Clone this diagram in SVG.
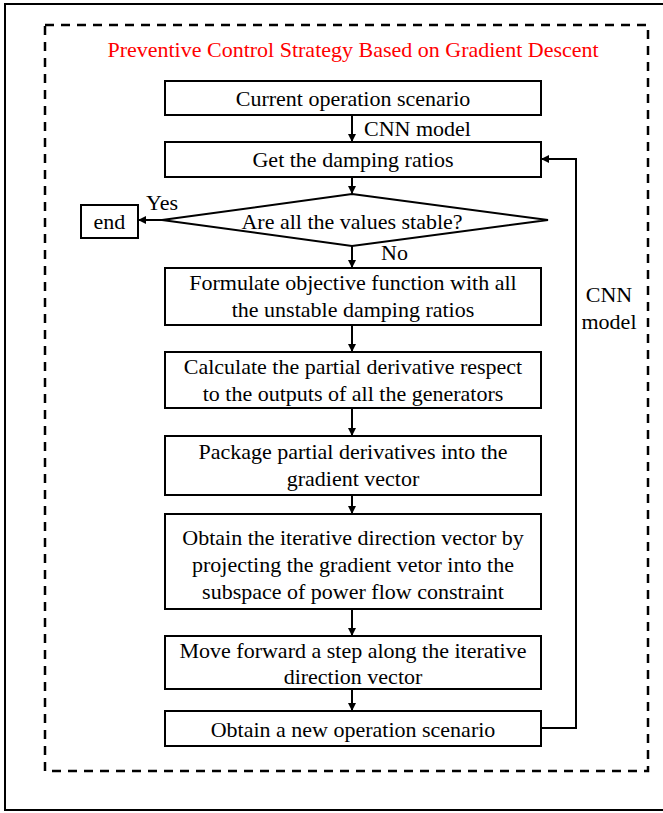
<svg xmlns="http://www.w3.org/2000/svg" width="663" height="813" viewBox="0 0 663 813">
  <style>
    .box { fill: #fff; stroke: #000; stroke-width: 2; }
    .txt { font-family: "Liberation Serif", "Times New Roman", serif; font-size: 22px; fill: #000; text-anchor: middle; }
    .lbl { font-family: "Liberation Serif", "Times New Roman", serif; font-size: 22px; fill: #000; }
    .title { font-family: "Liberation Serif", "Times New Roman", serif; font-size: 22px; fill: #ff0000; text-anchor: middle; }
    .edge { fill: none; stroke: #000; stroke-width: 2; }
  </style>
  <defs>
    <marker id="arrow" viewBox="0 0 10 10" refX="10" refY="5" markerWidth="4" markerHeight="4" orient="auto" markerUnits="strokeWidth">
      <path d="M0,0 L10,5 L0,10 z" fill="#000"/>
    </marker>
  </defs>

  <rect x="0" y="0" width="663" height="813" fill="#fff"/>
  <!-- outer frame -->
  <rect x="5" y="4" width="680" height="806" fill="none" stroke="#000" stroke-width="2"/>
  <!-- dashed group boundary -->
  <rect x="45" y="25" width="603" height="746" fill="none" stroke="#000" stroke-width="2.5" stroke-dasharray="9,7"/>
  <text class="title" x="353" y="57">Preventive Control Strategy Based on Gradient Descent</text>

  <g id="n-current">
    <rect class="box" x="165" y="81" width="376" height="34"/>
    <text class="txt" x="353" y="106">Current operation scenario</text>
  </g>
  <g id="n-damping">
    <rect class="box" x="165" y="142" width="376" height="35"/>
    <text class="txt" x="353" y="167">Get the damping ratios</text>
  </g>
  <g id="n-stable">
    <polygon class="box" points="352,194 548,220 352,246 162,220"/>
    <text class="txt" x="352" y="229">Are all the values stable?</text>
  </g>
  <g id="n-end">
    <rect class="box" x="81" y="205" width="57" height="33"/>
    <text class="txt" x="109.5" y="229">end</text>
  </g>
  <g id="n-objective">
    <rect class="box" x="165" y="268" width="376" height="57"/>
    <text class="txt" x="353" y="290">Formulate objective function with all</text>
    <text class="txt" x="353" y="317">the unstable damping ratios</text>
  </g>
  <g id="n-partial">
    <rect class="box" x="165" y="352" width="376" height="56"/>
    <text class="txt" x="353" y="374">Calculate the partial derivative respect</text>
    <text class="txt" x="353" y="401">to the outputs of all the generators</text>
  </g>
  <g id="n-gradient">
    <rect class="box" x="165" y="436" width="376" height="59"/>
    <text class="txt" x="353" y="459">Package partial derivatives into the</text>
    <text class="txt" x="353" y="486">gradient vector</text>
  </g>
  <g id="n-direction">
    <rect class="box" x="165" y="514" width="376" height="95"/>
    <text class="txt" x="353" y="545">Obtain the iterative direction vector by</text>
    <text class="txt" x="353" y="572">projecting the gradient vetor into the</text>
    <text class="txt" x="353" y="599">subspace of power flow constraint</text>
  </g>
  <g id="n-step">
    <rect class="box" x="165" y="636" width="376" height="53"/>
    <text class="txt" x="353" y="658">Move forward a step along the iterative</text>
    <text class="txt" x="353" y="684">direction vector</text>
  </g>
  <g id="n-new">
    <rect class="box" x="165" y="711" width="376" height="35"/>
    <text class="txt" x="353" y="737">Obtain a new operation scenario</text>
  </g>

  <g id="connectors">
    <path class="edge" d="M352,115 V142" marker-end="url(#arrow)"/>
    <path class="edge" d="M352,177 V194" marker-end="url(#arrow)"/>
    <path class="edge" d="M162,220 H138" marker-end="url(#arrow)"/>
    <path class="edge" d="M352,246 V268" marker-end="url(#arrow)"/>
    <path class="edge" d="M352,325 V352" marker-end="url(#arrow)"/>
    <path class="edge" d="M352,408 V436" marker-end="url(#arrow)"/>
    <path class="edge" d="M352,495 V514" marker-end="url(#arrow)"/>
    <path class="edge" d="M352,609 V636" marker-end="url(#arrow)"/>
    <path class="edge" d="M352,689 V711" marker-end="url(#arrow)"/>
    <path class="edge" d="M541,728 H576 V159 H541" marker-end="url(#arrow)"/>
    <text class="lbl" x="364" y="136">CNN model</text>
    <text class="lbl" x="146" y="210">Yes</text>
    <text class="lbl" x="381" y="260">No</text>
    <text class="txt" x="609" y="302">CNN</text>
    <text class="txt" x="609" y="329">model</text>
  </g>
</svg>
